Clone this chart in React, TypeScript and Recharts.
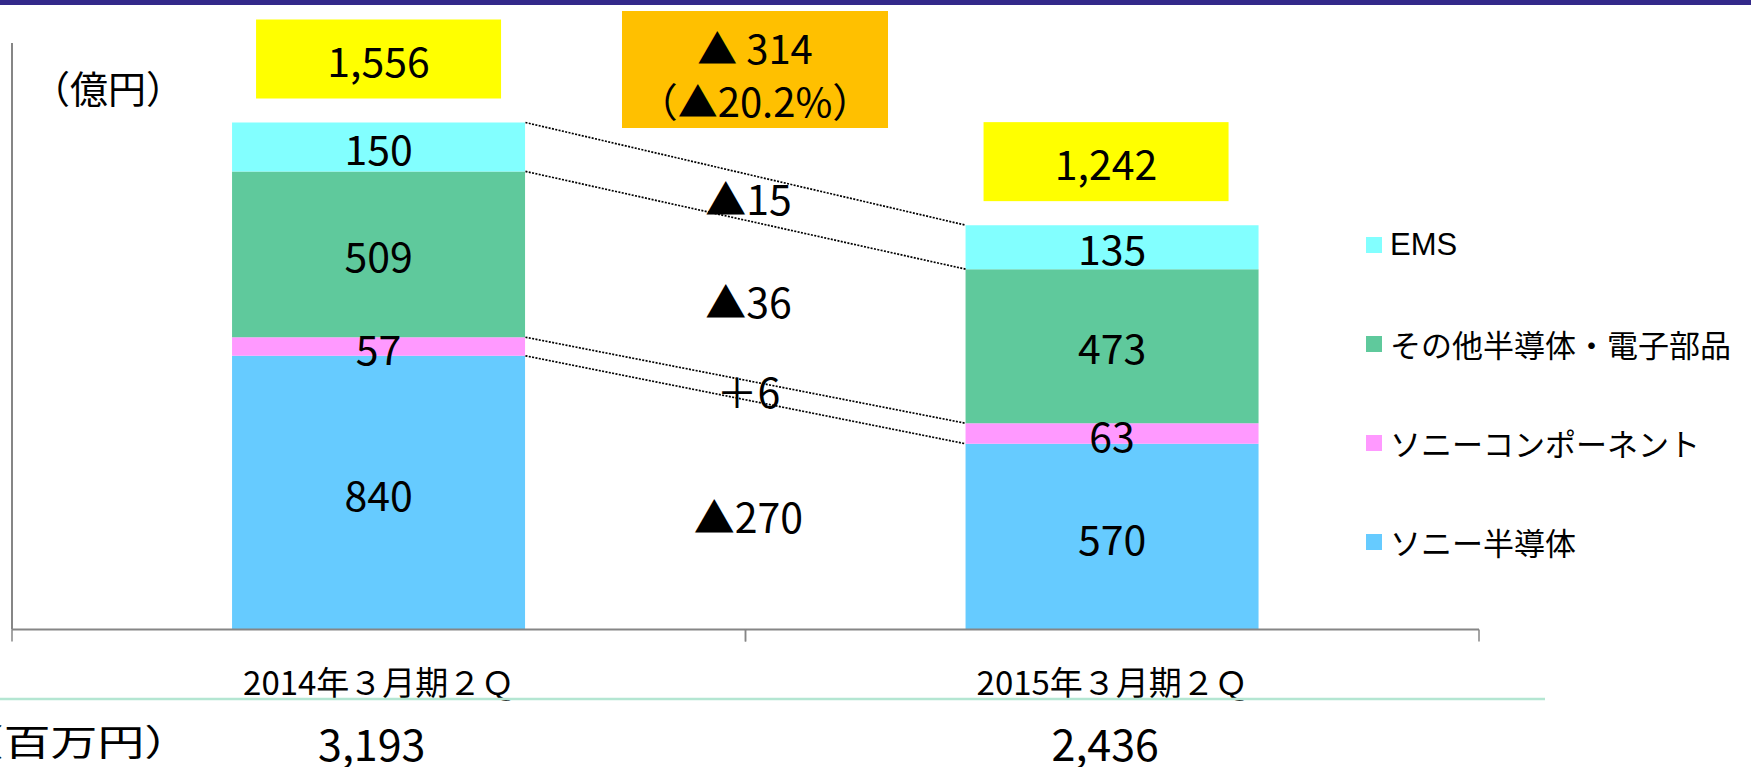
import React from 'react';
import { BarChart, Bar, XAxis, YAxis, LabelList, ReferenceLine } from 'recharts';

// ---- data ----
const categories = ['2014年３月期２Ｑ', '2015年３月期２Ｑ'];
const seriesKeys = ['semi', 'comp', 'other', 'ems'];
const seriesNames = ['ソニー半導体', 'ソニーコンポーネント', 'その他半導体・電子部品', 'EMS'];
const seriesColors = ['#66CBFF', '#FF99FF', '#5FC99C', '#82FFFF'];
const semiconductor = [840, 570];
const components = [57, 63];
const otherParts = [509, 473];
const ems = [150, 135];
const totals = [1556, 1242];
const millionYen = [3193, 2436];
const yMax = 1800;

const seriesValues = [semiconductor, components, otherParts, ems];
const data = categories.map((name, i) => ({
  name,
  semi: semiconductor[i],
  comp: components[i],
  other: otherParts[i],
  ems: ems[i],
}));

// ---- style constants ----
const FONT = "'Noto Sans CJK JP', sans-serif";
const LEGEND_FONT = "'Liberation Sans', 'Noto Sans CJK JP', sans-serif";
const AXIS = '#868686';
const BAR_FRAC = 0.4; // bar width as share of a category band (barCategoryGap 30%)

const fmt = (v: number) => v.toLocaleString('en-US');
const fmtDelta = (d: number) => (d < 0 ? '▲' + Math.abs(d) : '＋' + d);

const cumBelow = (k: number, i: number) => {
  let s = 0;
  for (let j = 0; j < k; j++) s += seriesValues[j][i];
  return s;
};
const cumTop = (k: number, i: number) => cumBelow(k, i) + seriesValues[k][i];

const connectors = seriesKeys.map((_, k) => [cumTop(k, 0), cumTop(k, 1)]);
const deltas = seriesKeys.map((_, k) => ({
  text: fmtDelta(seriesValues[k][1] - seriesValues[k][0]),
  a: cumBelow(k, 0) + seriesValues[k][0] / 2,
  b: cumBelow(k, 1) + seriesValues[k][1] / 2,
}));
const totalDiff = totals[1] - totals[0];
const totalPct = Math.abs((totalDiff / totals[0]) * 100).toFixed(1);
const sign = totalDiff < 0 ? '▲' : '＋';
const diffLine1 = sign + ' ' + Math.abs(totalDiff);
const diffLine2 = '（' + sign + totalPct + '%）';

const getBox = (p: any) => {
  const vb = p.viewBox || {};
  return {
    x: p.x ?? vb.x,
    y: p.y ?? vb.y,
    width: p.width ?? vb.width,
    height: p.height ?? vb.height,
  };
};

const centerLabel = (p: any) => {
  const b = getBox(p);
  return (
    <text
      x={b.x + b.width / 2}
      y={b.y + b.height / 2}
      textAnchor="middle"
      dominantBaseline="central"
      fontSize={41}
      fontFamily={FONT}
      fill="#000"
    >
      {p.value}
    </text>
  );
};

const totalLabel = (p: any) => {
  const b = getBox(p);
  const i = p.index ?? 0;
  const cx = b.x + b.width / 2 - i * 6;
  const bottom = b.y - 24;
  return (
    <g>
      <rect x={cx - 122.5} y={bottom - 79} width={245} height={79} fill="#FFFF00" />
      <text x={cx} y={bottom - 39.5} textAnchor="middle" dominantBaseline="central" fontSize={41} fontFamily={FONT} fill="#000">
        {fmt(totals[i])}
      </text>
    </g>
  );
};

const CategoryTick = (p: any) => {
  const { x, y, payload } = p;
  let i = categories.indexOf(payload.value);
  if (i < 0) i = payload.index ?? 0;
  const count = p.visibleTicksCount || categories.length;
  const half = p.width ? p.width / count / 2 : 366.75;
  return (
    <g>
      <line x1={x - half} y1={y} x2={x - half} y2={y + 12} stroke={AXIS} strokeWidth={1.5} />
      <line x1={x + half} y1={y} x2={x + half} y2={y + 12} stroke={AXIS} strokeWidth={1.5} />
      <text x={x} y={y + 51.5} textAnchor="middle" dominantBaseline="central" fontSize={33} fontFamily={FONT} fill="#000">
        {payload.value}
      </text>
      <text x={x - 7} y={y + 112} textAnchor="middle" dominantBaseline="central" fontSize={43} fontFamily={FONT} fill="#000">
        {fmt(millionYen[i])}
      </text>
    </g>
  );
};

// connector from right edge of first bar to left edge of second bar
const connectorShape = (p: any) => {
  const band = p.x2 - p.x1;
  const xa = p.x1 + (band * BAR_FRAC) / 2;
  const xb = p.x2 - (band * BAR_FRAC) / 2;
  return <line x1={xa} y1={p.y1} x2={xb} y2={p.y2} stroke="#000" strokeWidth={1.7} strokeDasharray="2 1.4" />;
};

const deltaShape = (text: string) => (p: any) => (
  <text
    x={(p.x1 + p.x2) / 2 + 3}
    y={(p.y1 + p.y2) / 2}
    textAnchor="middle"
    dominantBaseline="central"
    fontSize={41}
    fontFamily={FONT}
    fill="#000"
  >
    {text}
  </text>
);

const diffBoxShape = (p: any) => {
  const cx = (p.x1 + p.x2) / 2;
  const top = p.y1;
  return (
    <g>
      <rect x={cx - 123.5} y={top - 32} width={266} height={117} fill="#FFC000" />
      <text x={cx + 9.5} y={top + 4} textAnchor="middle" dominantBaseline="central" fontSize={40} fontFamily={FONT} fill="#000">
        {diffLine1}
      </text>
      <text x={cx + 9.5} y={top + 57} textAnchor="middle" dominantBaseline="central" fontSize={40} fontFamily={FONT} fill="#000">
        {diffLine2}
      </text>
    </g>
  );
};

const legendOrder = seriesKeys.map((_, k) => k).reverse();

export default function App() {
  return (
    <div style={{ position: 'absolute', left: 0, top: 0, width: 1751, height: 767, background: '#fff', overflow: 'hidden' }}>
      <BarChart
        width={1751}
        height={767}
        data={data}
        margin={{ top: 43, right: 272, left: 11, bottom: 0 }}
        barCategoryGap="30%"
      >
        <YAxis
          domain={[0, yMax]}
          allowDataOverflow
          width={1}
          tick={false}
          tickLine={false}
          axisLine={{ stroke: AXIS, strokeWidth: 2 }}
        />
        <XAxis
          dataKey="name"
          axisLine={{ stroke: AXIS, strokeWidth: 2 }}
          tickLine={false}
          tickSize={0}
          tickMargin={0}
          height={137.5}
          interval={0}
          tick={<CategoryTick />}
        />
        {seriesKeys.map((key, k) => (
          <Bar
            key={key}
            dataKey={key}
            name={seriesNames[k]}
            stackId="a"
            fill={seriesColors[k]}
            isAnimationActive={false}
          >
            <LabelList dataKey={key} content={centerLabel} />
            {k === seriesKeys.length - 1 ? <LabelList dataKey={key} content={totalLabel} /> : null}
          </Bar>
        ))}
        {connectors.map(([a, b], k) => (
          <ReferenceLine
            key={'c' + k}
            segment={[
              { x: categories[0], y: a },
              { x: categories[1], y: b },
            ]}
            ifOverflow="visible"
            shape={connectorShape}
          />
        ))}
        {deltas.map((d, k) => (
          <ReferenceLine
            key={'d' + k}
            segment={[
              { x: categories[0], y: d.a },
              { x: categories[1], y: d.b },
            ]}
            ifOverflow="visible"
            shape={deltaShape(d.text)}
          />
        ))}
        <ReferenceLine
          segment={[
            { x: categories[0], y: yMax },
            { x: categories[1], y: yMax },
          ]}
          ifOverflow="visible"
          shape={diffBoxShape}
        />
      </BarChart>
      <div
        style={{
          position: 'absolute',
          left: 1366,
          top: 195,
          fontFamily: LEGEND_FONT,
          fontSize: 31,
          color: '#000',
        }}
      >
        {legendOrder.map((k) => (
          <div key={k} style={{ height: 99, display: 'flex', alignItems: 'center', whiteSpace: 'nowrap' }}>
            <span style={{ width: 16, height: 16, background: seriesColors[k], marginRight: 8, display: 'inline-block', flex: 'none' }} />
            <span>{seriesNames[k]}</span>
          </div>
        ))}
      </div>
      <svg
        width={1751}
        height={767}
        style={{ position: 'absolute', left: 0, top: 0, pointerEvents: 'none' }}
      >
        <rect x={0} y={0} width={1751} height={5} fill="#33298A" />
        <text x={32} y={86} dominantBaseline="central" fontSize={38} fontFamily={FONT} fill="#000">
          （億円）
        </text>
        <line x1={0} y1={699} x2={1545} y2={699} stroke="#B4E6D2" strokeWidth={2.5} />
        <text
          x={-43 / 1.3}
          y={740}
          dominantBaseline="central"
          fontSize={36}
          fontFamily={FONT}
          fill="#000"
          transform="scale(1.3,1)"
        >
          （百万円）
        </text>
      </svg>
    </div>
  );
}
